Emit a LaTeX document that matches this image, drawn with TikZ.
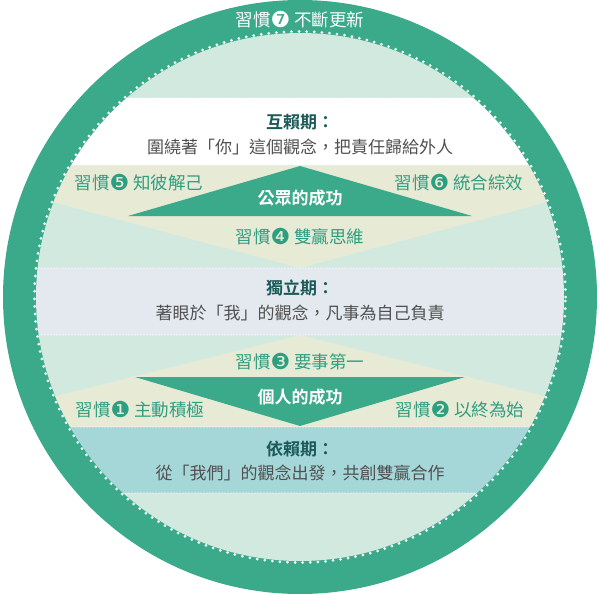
\documentclass[tikz,border=0pt]{standalone}
\usepackage{fontspec}
\setmainfont{Noto Sans CJK TC}[BoldFont={Noto Sans CJK TC Bold}]
\newfontfamily\dingfont{DejaVu Sans}
\definecolor{ring}{RGB}{58,170,138}
\definecolor{lgreen}{RGB}{210,233,223}
\definecolor{beige}{RGB}{231,235,214}
\definecolor{lblue}{RGB}{227,233,239}
\definecolor{tealband}{RGB}{166,215,216}
\definecolor{habit}{RGB}{46,158,128}
\definecolor{head}{RGB}{27,90,88}
\definecolor{body}{RGB}{80,80,80}
\newcommand{\cnum}[1]{{\dingfont\fontsize{22}{22}\selectfont\raisebox{-1pt}{#1}}}
\tikzset{
  habitlbl/.style={text=habit, font=\fontsize{17.5}{17.5}\selectfont, inner sep=0pt},
  headlbl/.style={text=head, font=\fontsize{17}{17}\selectfont\bfseries, inner sep=0pt},
  bodylbl/.style={text=body, font=\fontsize{17}{17}\selectfont, inner sep=0pt},
  successlbl/.style={text=white, font=\fontsize{17}{17}\selectfont\bfseries, inner sep=0pt},
  dotline/.style={white, line width=1.2pt, dash pattern=on 0pt off 3pt, line cap=round},
}
\begin{document}
\begin{tikzpicture}[x=1pt,y=-1pt]
\useasboundingbox (0,0) rectangle (600,594);
% outer ring
\fill[ring] (300,297) circle[radius=297pt];
\begin{scope}
\clip (300,297) circle[radius=264pt];
\fill[lgreen] (0,0) rectangle (600,98);
\fill[white] (0,98) rectangle (600,165);
\fill[lgreen] (0,165) rectangle (600,268);
\fill[beige] (0,165) -- (600,165) -- (600,188) -- (300,268) -- (0,188) -- cycle;
\fill[lblue] (0,268) rectangle (600,335);
\fill[lgreen] (0,335) rectangle (600,427);
\fill[beige] (300,335) -- (600,410) -- (600,427) -- (0,427) -- (0,410) -- cycle;
\fill[tealband] (0,427) rectangle (600,493);
\fill[lgreen] (0,493) rectangle (600,594);
% success triangles
\fill[ring] (300,166) -- (472,216) -- (128,216) -- cycle;
\fill[ring] (135,377) -- (465,377) -- (300,426) -- cycle;
% dotted band lines
\foreach \yy in {98,165,268,335,427,493}
  \draw[dotline] (0,\yy) -- (600,\yy);
\end{scope}
% dotted inner border
\draw[white, line width=3pt, dash pattern=on 0pt off 7.6pt, line cap=round] (300,297) circle[radius=265.5pt];
% labels
\node[habitlbl, text=white] (h7) at (300,20) {習慣\cnum{❼} 不斷更新};
\node[headlbl] (hd1) at (300,122) {互賴期：};
\node[bodylbl] (bd1) at (300,147) {圍繞著「你」這個觀念，把責任歸給外人};
\node[habitlbl] (h5) at (139,183) {習慣\cnum{❺} 知彼解己};
\node[habitlbl] (h6) at (459,183) {習慣\cnum{❻} 統合綜效};
\node[successlbl] (s1) at (300,198) {公眾的成功};
\node[habitlbl] (h4) at (300,237) {習慣\cnum{❹} 雙贏思維};
\node[headlbl] (hd2) at (300,288) {獨立期：};
\node[bodylbl] (bd2) at (300,313) {著眼於「我」的觀念，凡事為自己負責};
\node[habitlbl] (h3) at (300,362) {習慣\cnum{❸} 要事第一};
\node[successlbl] (s2) at (300,397) {個人的成功};
\node[habitlbl] (h1) at (140,410) {習慣\cnum{❶} 主動積極};
\node[habitlbl] (h2) at (460,410) {習慣\cnum{❷} 以終為始};
\node[headlbl] (hd3) at (300,449) {依賴期：};
\node[bodylbl] (bd3) at (300,473) {從「我們」的觀念出發，共創雙贏合作};
\end{tikzpicture}
\end{document}
